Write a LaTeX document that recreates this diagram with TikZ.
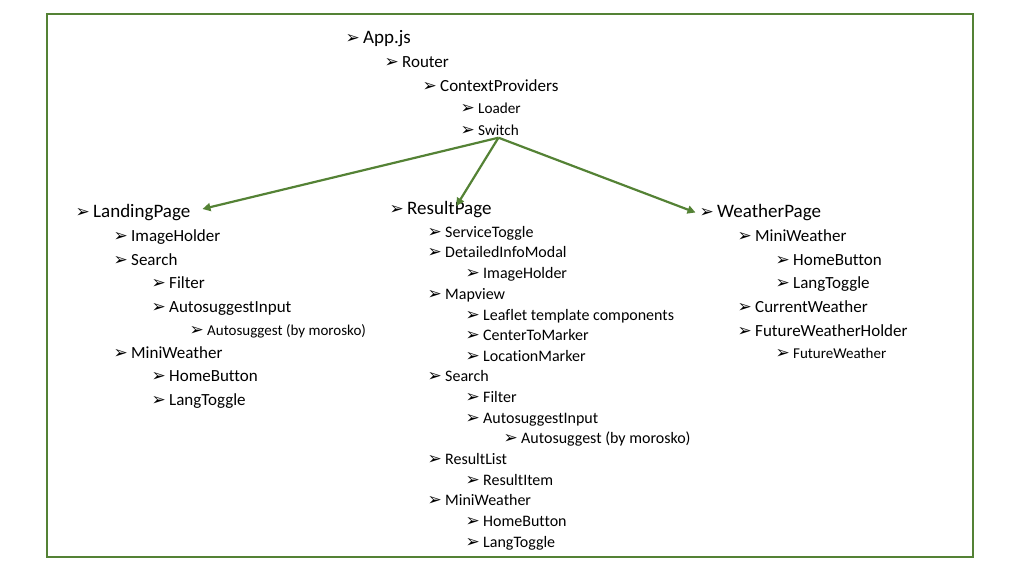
\documentclass[tikz,border=0pt]{standalone}
\usepackage{fontspec}
\setmainfont{Carlito}[Ligatures=NoCommon]
\newfontfamily\symf{DejaVu Sans}
\usetikzlibrary{arrows.meta}
\definecolor{framegreen}{RGB}{84,130,53}
\newcommand\entry[5]{%
  \node[txt,font=\fontsize{#4}{#4}\selectfont] (#1) at (#2+17,#3+3) {#5};
  \node[bul] (#1b) at (#2-0.5,#3+0.5) {➢};
}
\begin{document}
\begin{tikzpicture}[x=1pt,y=-1pt,
  txt/.style={anchor=mid west,inner sep=0pt},
  bul/.style={anchor=west,inner sep=0pt,font=\symf\fontsize{17}{17}\selectfont},
  link/.style={draw=framegreen,line width=2.2pt,-{Triangle[length=8pt,width=8pt]}}]
\useasboundingbox (0,0) rectangle (1024,576);
\draw[framegreen,line width=2.5pt] (47,14) rectangle (973,557);
% top
\entry{app}{346}{38}{19}{App.js}
\entry{router}{385}{62}{17}{Router}
\entry{ctx}{423}{86}{17}{ContextProviders}
\entry{loader}{461}{108}{15.2}{Loader}
\entry{sw}{461}{130}{15.2}{Switch}
% landing
\entry{lp}{76}{212}{19}{LandingPage}
\entry{lpimg}{114}{236}{17}{ImageHolder}
\entry{lpsearch}{114}{260}{17}{Search}
\entry{lpfilter}{152}{283}{17}{Filter}
\entry{lpauto}{152}{307}{17}{AutosuggestInput}
\entry{lpautos}{190}{330}{15}{Autosuggest (by morosko)}
\entry{lpmini}{114}{353}{17}{MiniWeather}
\entry{lphome}{152}{376}{17}{HomeButton}
\entry{lplang}{152}{400}{17}{LangToggle}
% result
\entry{rp}{390}{209}{19}{ResultPage}
\entry{rpserv}{428}{232}{16}{ServiceToggle}
\entry{rpdet}{428}{252}{16}{DetailedInfoModal}
\entry{rpimg}{466}{273}{16}{ImageHolder}
\entry{rpmap}{428}{294}{16}{Mapview}
\entry{rpleaf}{466}{315}{16}{Leaflet template components}
\entry{rpcenter}{466}{335}{16}{CenterToMarker}
\entry{rploc}{466}{356}{16}{LocationMarker}
\entry{rpsearch}{428}{376}{16}{Search}
\entry{rpfilter}{466}{397}{16}{Filter}
\entry{rpauto}{466}{418}{16}{AutosuggestInput}
\entry{rpautos}{504}{438}{16}{Autosuggest (by morosko)}
\entry{rplist}{428}{459}{16}{ResultList}
\entry{rpitem}{466}{480}{16}{ResultItem}
\entry{rpmini}{428}{500}{16}{MiniWeather}
\entry{rphome}{466}{521}{16}{HomeButton}
\entry{rplang}{466}{542}{16}{LangToggle}
% weather
\entry{wp}{700}{212}{19}{WeatherPage}
\entry{wpmini}{738}{236}{17}{MiniWeather}
\entry{wphome}{776}{260}{17}{HomeButton}
\entry{wplang}{776}{283}{17}{LangToggle}
\entry{wpcur}{738}{307}{17}{CurrentWeather}
\entry{wpfut}{738}{331}{17}{FutureWeatherHolder}
\entry{wpfw}{776}{353}{15}{FutureWeather}
% arrows
\coordinate (src) at ([yshift=-2pt]sw.south);
\draw[link] (src) -- ([xshift=12pt,yshift=-5pt]lp.north east);
\draw[link] (src) -- ([xshift=7pt,yshift=-5pt]rp.north);
\draw[link] (src) -- ([xshift=-4pt]wpb.west);
\end{tikzpicture}
\end{document}
